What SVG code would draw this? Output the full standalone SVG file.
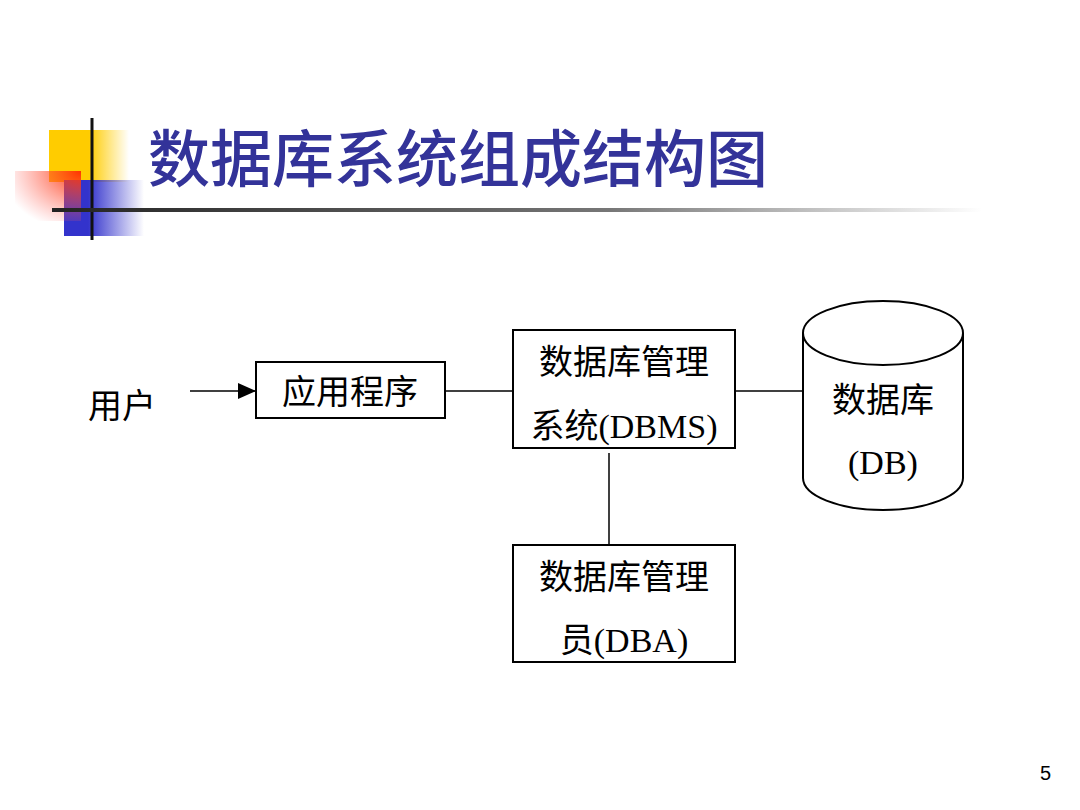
<svg xmlns="http://www.w3.org/2000/svg" width="1080" height="810" viewBox="0 0 1080 810">
<defs>
<linearGradient id="gy" x1="0" x2="1"><stop offset="0.5" stop-color="#ffcc00"/><stop offset="1" stop-color="#ffcc00" stop-opacity="0"/></linearGradient>
<linearGradient id="gb" x1="0" x2="1"><stop offset="0.3" stop-color="#3333cc"/><stop offset="1" stop-color="#3333cc" stop-opacity="0"/></linearGradient>
<radialGradient id="gr" cx="1" cy="0" r="1.2"><stop offset="0" stop-color="#ff3300"/><stop offset="1" stop-color="#ff6666" stop-opacity="0"/></radialGradient>
<linearGradient id="gl" x1="0" x2="1"><stop offset="0" stop-color="#222"/><stop offset="0.6" stop-color="#777"/><stop offset="1" stop-color="#fff"/></linearGradient>
<marker id="ar" markerWidth="18" markerHeight="16" refX="18" refY="8" orient="auto" markerUnits="userSpaceOnUse"><path d="M0,0 L18,8 L0,16z" fill="#000"/></marker>
<style>
.t{font-family:"Liberation Serif","Noto Sans CJK SC",serif;font-size:34px;fill:#000}
.b{fill:#fff;stroke:#000;stroke-width:2}
.c{stroke:#000;stroke-width:1.5;fill:none}
</style>
</defs>
<rect width="1080" height="810" fill="#fff"/>
<rect x="49" y="130" width="80" height="52" fill="url(#gy)"/>
<rect x="64" y="180" width="80" height="56" fill="url(#gb)"/>
<rect x="15" y="171" width="66" height="50" fill="url(#gr)"/>
<line x1="92" y1="118" x2="92" y2="240" stroke="#111" stroke-width="3"/>
<rect x="52" y="208" width="930" height="4" fill="url(#gl)"/>
<text x="148" y="182" style="font-family:'Noto Sans CJK SC',sans-serif;font-size:62px;fill:#333399;font-weight:500">数据库系统组成结构图</text>
<g id="connectors">
<line class="c" x1="190" y1="391" x2="256" y2="391" marker-end="url(#ar)"/>
<line class="c" x1="445" y1="391" x2="513" y2="391"/>
<line class="c" x1="735" y1="391" x2="803" y2="391"/>
<line class="c" x1="609" y1="453" x2="609" y2="545"/>
</g>
<g id="user"><text class="t" x="88" y="418">用户</text></g>
<g id="app"><rect class="b" x="256" y="362" width="189" height="56"/><text class="t" x="350" y="404" text-anchor="middle">应用程序</text></g>
<g id="dbms"><rect class="b" x="513" y="330" width="222" height="118"/><text class="t" x="624" y="374" text-anchor="middle">数据库管理</text><text class="t" x="624" y="438" text-anchor="middle">系统(DBMS)</text></g>
<g id="db"><path class="b" d="M803,333 L803,478 A80,32 0 0 0 963,478 L963,333"/><ellipse class="b" cx="883" cy="333" rx="80" ry="32"/><text class="t" x="883" y="412" text-anchor="middle">数据库</text><text class="t" x="883" y="474" text-anchor="middle">(DB)</text></g>
<g id="dba"><rect class="b" x="513" y="545" width="222" height="117"/><text class="t" x="624" y="589" text-anchor="middle">数据库管理</text><text class="t" x="624" y="652" text-anchor="middle">员(DBA)</text></g>
<text x="1040" y="780" style="font-family:'Liberation Sans',sans-serif;font-size:20px">5</text>
</svg>
